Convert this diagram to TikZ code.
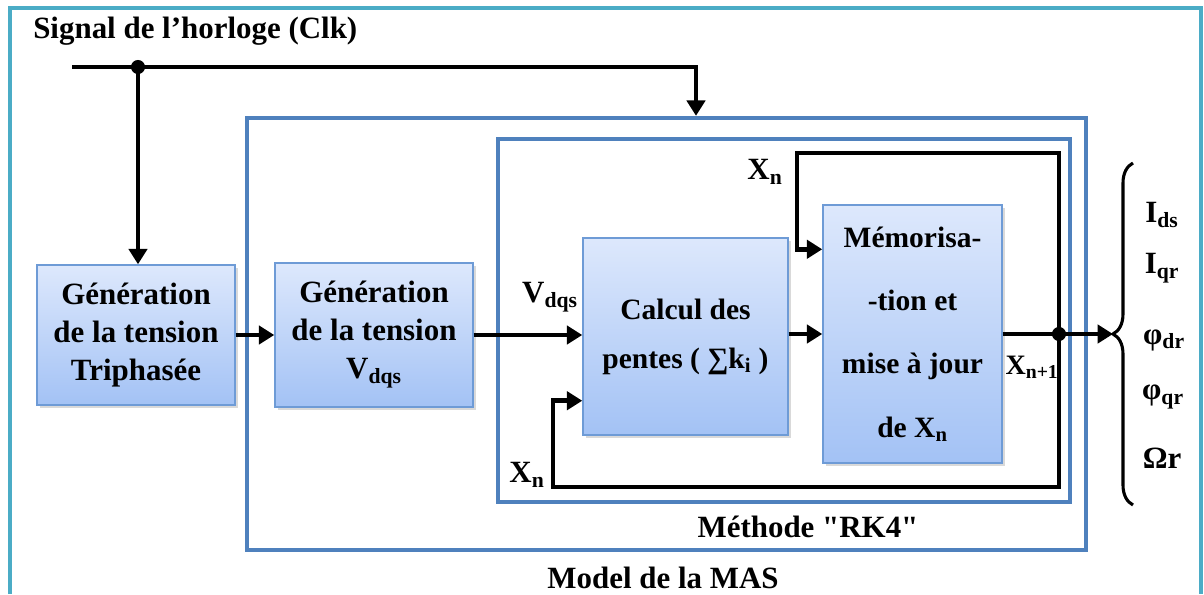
\documentclass[tikz,border=0pt]{standalone}
\usepackage{fontspec}
\setmainfont{Liberation Serif}
\newfontfamily\droit{Liberation Serif}
\usetikzlibrary{arrows.meta,shadows,decorations.pathreplacing,positioning}

\definecolor{cadreBleu}{HTML}{4F81BD}
\definecolor{bordBloc}{HTML}{6E9BD6}
\definecolor{hautBloc}{HTML}{DDE8FC}
\definecolor{basBloc}{HTML}{A3C2F5}
\definecolor{turquoise}{HTML}{4BACC6}

\tikzset{
  bloc/.style={draw=bordBloc, line width=1pt, top color=hautBloc, bottom color=basBloc,
    drop shadow={opacity=0.3,shadow xshift=2pt,shadow yshift=-2pt},
    align=center, inner sep=0pt, font=\fontsize{22}{27}\selectfont\bfseries},
  cadre/.style={draw=cadreBleu, line width=3pt, inner sep=0pt},
  fleche/.style={line width=3.2pt, -{Triangle[length=11pt,width=13pt]}},
  ligne/.style={line width=3.2pt},
  lbl/.style={font=\fontsize{22}{24}\selectfont\bfseries, inner sep=0pt},
  point/.style={circle, fill=black, inner sep=0pt, minimum size=10pt},
}

\begin{document}
\begin{tikzpicture}[x=0.025cm,y=-0.025cm]
  \useasboundingbox (0,0) rectangle (1204,594);
  \draw[turquoise, line width=3pt] (10,594) -- (10,8) -- (1201,8) -- (1201,594);

  % cadres
  \node[cadre, minimum width=20.975cm, minimum height=10.8cm] (mas) at (666.5,334) {};
  \node[cadre, minimum width=14.3cm, minimum height=9.075cm] (rk4) at (784,320.5) {};

  % blocs
  \node[bloc, minimum width=4.95cm, minimum height=3.5cm] (gen1) at (136,335) {G\'en\'eration\\de la tension\\Triphas\'ee};
  \node[bloc, minimum width=4.95cm, minimum height=3.6cm] (gen2) at (374,335) {G\'en\'eration\\de la tension\\V\textsubscript{dqs}};
  \node[bloc, minimum width=5.125cm, minimum height=4.925cm, font=\fontsize{21}{35}\selectfont\bfseries] (calc) at (685.5,336.5) {Calcul des\\pentes ( ∑k\textsubscript{i} )};
  \node[bloc, minimum width=4.475cm, minimum height=6.45cm, font=\fontsize{21}{45}\selectfont\bfseries] (memo) at (912.5,334) {M\'emorisa-\\-tion et\\mise \`a jour\\de X\textsubscript{n}};

  % textes
  \node[lbl, anchor=west] (titre) at (33,31) {Signal de l’horloge (Clk)};
  \node[lbl] (rk) at (808,527) {M\'ethode {\droit"}RK4{\droit"}};
  \node[lbl] (mod) at (663,578) {Model de la MAS};
  \node[lbl] (vdqs) at (550,297) {V\textsubscript{dqs}};
  \node[lbl] (xnh) at (765,172) {X\textsubscript{n}};
  \node[lbl] (xnb) at (527,475) {X\textsubscript{n}};
  \node[lbl, font=\fontsize{20}{24}\selectfont\bfseries] (xn1) at (1032,367) {X\textsubscript{n+1}};
  \node[lbl] (ids) at (1162,215) {I\textsubscript{ds}};
  \node[lbl] (iqr) at (1162,268) {I\textsubscript{qr}};
  \node[lbl] (pdr) at (1164,340) {φ\textsubscript{dr}};
  \node[lbl] (pqr) at (1163,397) {φ\textsubscript{qr}};
  \node[lbl] (wr) at (1162,458) {Ωr};

  % horloge
  \coordinate (clkA) at (72,67);
  \coordinate (clkJ) at (138,67);
  \coordinate (clkB) at (696,67);
  \draw[fleche] (clkA) -- (clkB) -- (clkB |- mas.north);
  \draw[fleche] (clkJ) -- (clkJ |- gen1.north);
  \node[point] at (clkJ) {};

  % chaine
  \draw[fleche] (gen1.east) -- (gen1.east -| gen2.west);
  \draw[fleche] (gen2.east) -- (gen2.east -| calc.west);
  \draw[fleche] (calc.east |- memo.west) -- (memo.west);

  % sortie et retours
  \coordinate (outJ) at (1059,334);
  \coordinate (acc) at (1113,334);
  \coordinate (fbT) at (797,153);
  \coordinate (fbB) at (553,487);
  \draw[ligne] (memo.east) -- (outJ);
  \draw[fleche] (outJ) -- (acc);
  \draw[fleche] (outJ) |- (fbT) |- ([yshift=-1.125cm]memo.north west);
  \draw[fleche] (outJ) |- (fbB) |- ([yshift=0.875cm]calc.south west);
  \node[point] at (outJ) {};

  % accolade
  \draw[line width=2.2pt, decorate, decoration={brace, amplitude=0.5cm}] (1133,505) -- (1133,163);
\end{tikzpicture}
\end{document}
